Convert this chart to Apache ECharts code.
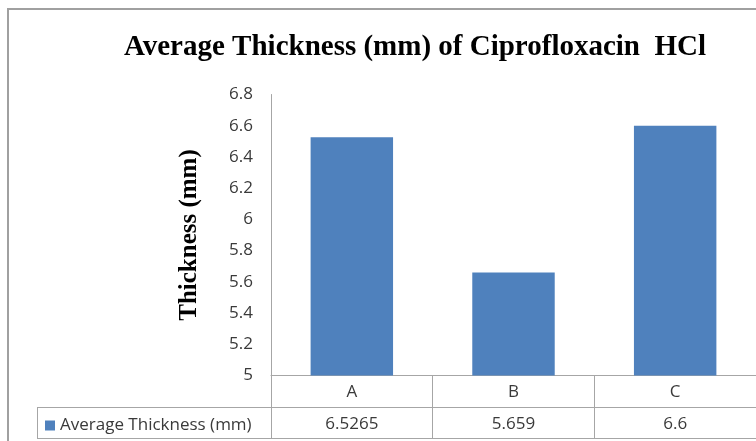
<!DOCTYPE html>
<html>
<head>
<meta charset="utf-8">
<script src="https://cdn.jsdelivr.net/npm/echarts@6/dist/echarts.min.js"></script>
<style>
  html, body { margin: 0; padding: 0; background: #ffffff; }
  #chart { width: 756px; height: 441px; }
</style>
</head>
<body>
<div id="chart"></div>
<script>
// Tablet thickness data
const categories = ['A', 'B', 'C'];
const thickness = [6.5265, 5.659, 6.6];
const seriesName = 'Average Thickness (mm)';
const yMin = 5;
const yMax = 6.8;
const yStep = 0.2;

const lineColor = '#a6a6a6';
const textColor = '#3a3a3a';
const bodyFont = '"Open Sans", "Noto Sans", sans-serif';
const serifFont = '"Liberation Serif", "DejaVu Serif", serif';
const bodySize = 17;

const chart = echarts.init(document.getElementById('chart'), null, { renderer: 'canvas' });

chart.setOption({
  animation: false,
  backgroundColor: '#ffffff',
  title: {
    text: 'Average Thickness (mm) of Ciprofloxacin  HCl',
    left: 410,
    textAlign: 'center',
    top: 28,
    textStyle: { fontFamily: serifFont, fontWeight: 'bold', fontSize: 29, color: '#000000' }
  },
  legend: {
    left: 40,
    top: 412,
    itemWidth: 10,
    itemHeight: 10,
    icon: 'rect',
    data: [seriesName],
    textStyle: { fontFamily: bodyFont, fontSize: bodySize, color: textColor }
  },
  grid: { left: 271, top: 94.5, width: 499, height: 281, containLabel: false },
  xAxis: [
    {
      type: 'category',
      data: categories,
      position: 'bottom',
      axisLine: { show: true, lineStyle: { color: lineColor, width: 1 } },
      axisTick: { show: true, alignWithLabel: false, length: 63.5, lineStyle: { color: lineColor } },
      axisLabel: { fontFamily: bodyFont, fontSize: bodySize, color: textColor, margin: 8 }
    },
    {
      type: 'category',
      data: thickness.map(String),
      position: 'bottom',
      offset: 31.5,
      axisLine: { show: false },
      axisTick: { show: false },
      axisLabel: { fontFamily: bodyFont, fontSize: bodySize, color: textColor, margin: 9 }
    }
  ],
  yAxis: {
    type: 'value',
    min: yMin,
    max: yMax,
    interval: yStep,
    name: 'Thickness (mm)',
    nameLocation: 'middle',
    nameGap: 69,
    nameRotate: 90,
    nameTextStyle: { fontFamily: serifFont, fontWeight: 'bold', fontSize: 25, color: '#000000' },
    axisLine: { show: true, lineStyle: { color: lineColor, width: 1 } },
    axisTick: { show: false },
    splitLine: { show: false },
    axisLabel: { fontFamily: bodyFont, fontSize: bodySize, color: textColor, margin: 18 }
  },
  series: [
    {
      name: seriesName,
      type: 'bar',
      data: thickness,
      barWidth: '51%',
      itemStyle: { color: '#4f81bd' }
    }
  ],
  graphic: [
    // chart frame
    { type: 'rect', shape: { x: 8, y: 9, width: 800, height: 460 },
      style: { fill: null, stroke: '#a0a0a0', lineWidth: 2 }, silent: true },
    // data table rules
    { type: 'line', shape: { x1: 37, y1: 407.5, x2: 770, y2: 407.5 },
      style: { stroke: lineColor, lineWidth: 1 }, silent: true },
    { type: 'line', shape: { x1: 37, y1: 438.5, x2: 770, y2: 438.5 },
      style: { stroke: lineColor, lineWidth: 1 }, silent: true },
    { type: 'line', shape: { x1: 37.5, y1: 407.5, x2: 37.5, y2: 438.5 },
      style: { stroke: lineColor, lineWidth: 1 }, silent: true }
  ]
});
</script>
</body>
</html>
